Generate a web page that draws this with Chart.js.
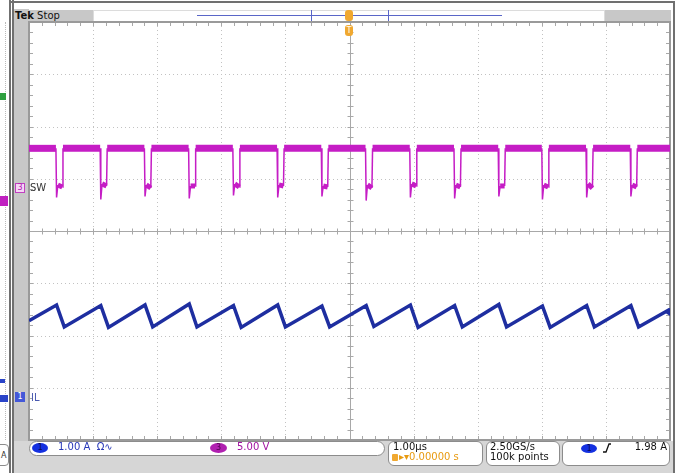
<!DOCTYPE html>
<html>
<head>
<meta charset="utf-8">
<script src="https://cdn.jsdelivr.net/npm/chart.js@4.4.0/dist/chart.umd.min.js"></script>
<style>
  body { margin: 0; background: #fff; }
  #scope { position: relative; width: 677px; height: 473px; overflow: hidden; background: #fff;
           font-family: "DejaVu Sans", sans-serif; }
  #scope div { position: absolute; box-sizing: border-box; }
  #scopeChart { position: absolute; left: 0; top: 0; }
  .txt { white-space: nowrap; font-size: 10px; line-height: 12px; }
  .box { background: #fff; border: 1px solid #8c8c8c; }
  .oval { border-radius: 50%; font-size: 8px; line-height: 10px; text-align: center; color: #0a0a40; }
  .tag { font-size: 8px; line-height: 9px; text-align: center; border-radius: 2px; }
</style>
</head>
<body>
<div id="scope">
  <!-- left neighbour panel -->
  <div style="left:5px;top:22px;width:1px;height:418px;border-left:1px dotted #bbb"></div>
  <div style="left:0;top:93px;width:6px;height:7px;background:#2fa040"></div>
  <div style="left:0;top:196px;width:8px;height:10px;background:#c020c0"></div>
  <div style="left:0;top:379px;width:5px;height:4px;background:#2a44c8"></div>
  <div style="left:0;top:395px;width:8px;height:7px;background:#2a44c8"></div>
  <div class="box" style="left:-4px;top:444px;width:13px;height:22px;border-radius:0 4px 4px 0"></div>
  <div class="txt" style="left:1px;top:450px;font-size:8px;color:#333">A</div>
  <div style="left:9px;top:0;width:2px;height:473px;background:#707070"></div>
  <div style="left:12px;top:0;width:2px;height:473px;background:#707070"></div>
  <!-- frame -->
  <div style="left:11px;top:1px;width:664px;height:2px;background:#707070"></div>
  <div style="left:673px;top:1px;width:2px;height:472px;background:#707070"></div>
  <div style="left:14px;top:9px;width:15px;height:464px;background:#c8c8c8"></div>
  <!-- top bar -->
  <div style="left:14px;top:10px;width:79px;height:12px;background:#c8c8c8"></div>
  <div class="txt" style="left:15px;top:10px;color:#111"><b>Tek</b> Stop</div>
  <div style="left:93px;top:10px;width:512px;height:12px;border:1px solid #dcdcdc;background:#fff"></div>
  <div style="left:197px;top:15px;width:305px;height:1px;background:#5a66c8"></div>
  <div style="left:311px;top:10px;width:1px;height:12px;background:#5a66c8"></div>
  <div style="left:388px;top:10px;width:1px;height:12px;background:#5a66c8"></div>
  <div style="left:345px;top:10px;width:8px;height:11px;background:#f0a830;border-radius:3px"></div>
  <div style="left:605px;top:10px;width:66px;height:12px;background:#c8c8c8"></div>
  <!-- status bar -->
  <div style="left:14px;top:441px;width:659px;height:32px;background:#d6d6d6"></div>
  <div class="box" style="left:29px;top:441px;width:356px;height:15px;border-radius:8px"></div>
  <div class="box" style="left:388px;top:441px;width:95px;height:25px;border-radius:6px"></div>
  <div class="box" style="left:486px;top:441px;width:74px;height:25px;border-radius:6px"></div>
  <div class="box" style="left:562px;top:441px;width:108px;height:25px;border-radius:6px"></div>
</div>
<canvas id="scopeChart" width="677" height="473"></canvas>
<div id="labels" style="position:absolute;left:0;top:0;width:677px;height:473px;pointer-events:none;font-family:'DejaVu Sans',sans-serif">
</div>
<script>
//setup block
// time axis in microseconds (1.00 us/div, 10 divisions)
const timeRangeUs = [-5, 5];
const gridDivsX = [-5, -4, -3, -2, -1, 0, 1, 2, 3, 4, 5];
const gridDivsY = [-4, -3, -2, -1, 0, 1, 2, 3, 4];

// channel 3, SW node, 5.00 V/div
const swTimeUs = [
  -5.00,
  -4.58, -4.57, -4.55, -4.48, -4.47,
  -3.89, -3.88, -3.86, -3.79, -3.78,
  -3.20, -3.19, -3.17, -3.10, -3.09,
  -2.51, -2.50, -2.48, -2.41, -2.40,
  -1.82, -1.81, -1.79, -1.72, -1.71,
  -1.13, -1.12, -1.10, -1.03, -1.02,
  -0.44, -0.43, -0.41, -0.34, -0.33,
   0.25,  0.26,  0.28,  0.35,  0.36,
   0.94,  0.95,  0.97,  1.04,  1.05,
   1.63,  1.64,  1.66,  1.73,  1.74,
   2.32,  2.33,  2.35,  2.42,  2.43,
   3.00,  3.01,  3.03,  3.10,  3.11,
   3.69,  3.70,  3.72,  3.79,  3.80,
   4.38,  4.39,  4.41,  4.48,  4.49,
   5.00
];
const swVolts = [
  3.8,
  3.8, -0.9, 0.3, 0.1, 3.8,
  3.8, -1.1, 0.4, 0.2, 3.8,
  3.8, -0.8, 0.3, 0.0, 3.8,
  3.8, -1.0, 0.2, 0.2, 3.8,
  3.8, -0.7, 0.4, 0.1, 3.8,
  3.8, -0.9, 0.3, 0.2, 3.8,
  3.8, -0.8, 0.2, 0.1, 3.8,
  3.8, -1.2, 0.3, 0.0, 3.8,
  3.8, -0.9, 0.4, 0.2, 3.8,
  3.8, -1.0, 0.3, 0.1, 3.8,
  3.8, -0.8, 0.2, 0.2, 3.8,
  3.8, -1.1, 0.3, 0.1, 3.8,
  3.8, -0.9, 0.4, 0.0, 3.8,
  3.8, -0.8, 0.3, 0.1, 3.8,
  3.8
];

// channel 1, inductor current, 1.00 A/div
const ilTimeUs = [
  -5.00,
  -4.57, -4.45, -3.88, -3.76, -3.19, -3.07, -2.50, -2.38, -1.81, -1.69,
  -1.12, -1.00, -0.43, -0.31,  0.26,  0.38,  0.95,  1.07,  1.64,  1.76,
   2.33,  2.45,  3.01,  3.13,  3.70,  3.82,  4.39,  4.51,
   5.00
];
const ilAmps = [
  1.48,
  1.78, 1.36, 1.77, 1.35, 1.78, 1.36, 1.80, 1.36, 1.77, 1.35,
  1.78, 1.36, 1.76, 1.36, 1.77, 1.37, 1.78, 1.35, 1.77, 1.36,
  1.79, 1.36, 1.76, 1.35, 1.77, 1.36, 1.77, 1.36,
  1.70
];

const scopeData = {
  datasets: [{
    label: 'SW',
    data: swTimeUs.map((t, i) => ({ x: t, y: swVolts[i] })),
    yAxisID: 'ySW',
    borderColor: '#c51dc5',
    borderWidth: 1.5,
    pointRadius: 0,
    segment: {
      // noisy flat parts look thicker than the edges
      borderWidth: ctx => {
        const a = ctx.p0.parsed.y, b = ctx.p1.parsed.y;
        if (a > 3 && b > 3) return 7;
        if (a < 1 && b < 1 && a > -0.5 && b > -0.5) return 5;
        return 1.5;
      }
    }
  }, {
    label: 'IL',
    data: ilTimeUs.map((t, i) => ({ x: t, y: ilAmps[i] })),
    yAxisID: 'yIL',
    borderColor: '#1e2ea0',
    borderWidth: 3.5,
    pointRadius: 0
  }]
};

//options
// graticule: dotted divisions, centre cross and frame with 0.2 div ticks
const scopeGrid = {
  id: 'scopeGrid',
  beforeDatasetsDraw(chart) {
    const { ctx, chartArea: a, scales } = chart;
    const x = scales.x, y = scales.yGrid;
    const line = (x1, y1, x2, y2) => { ctx.beginPath(); ctx.moveTo(x1, y1); ctx.lineTo(x2, y2); ctx.stroke(); };
    ctx.save();
    ctx.lineWidth = 1;
    ctx.strokeStyle = '#c2c2c2';
    ctx.setLineDash([1, 3]);
    gridDivsX.forEach(t => { const px = Math.round(x.getPixelForValue(t)) + 0.5; line(px, a.top, px, a.bottom); });
    gridDivsY.forEach(v => { const py = Math.round(y.getPixelForValue(v)) + 0.5; line(a.left, py, a.right, py); });
    ctx.setLineDash([]);
    const cx = Math.round(x.getPixelForValue(0)) + 0.5;
    const cy = Math.round(y.getPixelForValue(0)) + 0.5;
    ctx.strokeStyle = '#a8a8a8';
    line(cx, a.top, cx, a.bottom);
    line(a.left, cy, a.right, cy);
    for (let i = -25; i <= 25; i++) {
      const px = Math.round(x.getPixelForValue(i / 5)) + 0.5;
      line(px, cy - 3, px, cy + 3);
      line(px, a.top, px, a.top + 4);
      line(px, a.bottom - 4, px, a.bottom);
    }
    for (let i = -20; i <= 20; i++) {
      const py = Math.round(y.getPixelForValue(i / 5)) + 0.5;
      line(cx - 3, py, cx + 3, py);
      line(a.left, py, a.left + 4, py);
      line(a.right - 4, py, a.right, py);
    }
    ctx.strokeStyle = '#9a9a9a';
    ctx.lineWidth = 2;
    ctx.strokeRect(a.left, a.top, a.right - a.left, a.bottom - a.top);
    ctx.restore();
  }
};

const scopeOptions = {
  responsive: false,
  animation: false,
  devicePixelRatio: 1,
  layout: { padding: { left: 29, top: 22, right: 7, bottom: 33 } },
  plugins: { legend: { display: false }, tooltip: { enabled: false } },
  scales: {
    x: { type: 'linear', min: timeRangeUs[0], max: timeRangeUs[1], display: false },
    yGrid: { min: -4, max: 4, display: false },
    ySW: { min: -24.11, max: 15.89, display: false },
    yIL: { min: -0.804, max: 7.196, display: false }
  }
};

//config block
const scopeConfig = {
  type: 'line',
  data: scopeData,
  options: scopeOptions,
  plugins: [scopeGrid]
};

//render block
const scopeChart = new Chart(document.getElementById('scopeChart'), scopeConfig);

// readouts and markers on top of the graticule
document.getElementById('labels').innerHTML = `
  <div style="position:absolute;left:345px;top:25px;width:8px;height:11px;background:#f0a830;border-radius:3px;font-size:8px;line-height:11px;text-align:center;color:#fff">T</div>
  <div style="position:absolute;left:15px;top:183px;width:10px;height:10px;background:#f6d6f6;border:1px solid #c040c0;box-sizing:border-box;font-size:8px;line-height:8px;text-align:center;color:#b020b0">3</div>
  <div style="position:absolute;left:30px;top:182px;font-size:10px;line-height:12px;color:#333">SW</div>
  <div style="position:absolute;left:15px;top:392px;width:10px;height:10px;background:#4458d8;font-size:8px;line-height:10px;text-align:center;color:#fff">1</div>
  <div style="position:absolute;left:31px;top:392px;font-size:10px;line-height:12px;color:#4a5ab0">IL</div>
  <div style="position:absolute;left:664px;top:308px;width:0;height:0;border-top:4px solid transparent;border-bottom:4px solid transparent;border-right:6px solid #1e2ea0"></div>
  <div style="position:absolute;left:32px;top:443px;width:16px;height:10px;border-radius:50%;background:#1430e0;font-size:8px;line-height:10px;text-align:center;color:#0a0a50">1</div>
  <div style="position:absolute;left:58px;top:441px;font-size:10px;line-height:12px;color:#2838b8;white-space:nowrap">1.00 A&nbsp;&nbsp;Ω∿</div>
  <div style="position:absolute;left:210px;top:443px;width:17px;height:10px;border-radius:50%;background:#b020b0;font-size:8px;line-height:10px;text-align:center;color:#500050">3</div>
  <div style="position:absolute;left:237px;top:441px;font-size:10px;line-height:12px;color:#a010a0;white-space:nowrap">5.00 V</div>
  <div style="position:absolute;left:393px;top:441px;font-size:10px;line-height:12px;color:#111;white-space:nowrap">1.00µs</div>
  <div style="position:absolute;left:392px;top:454px;width:6px;height:7px;background:#f0a830;border-radius:1px"></div>
  <div style="position:absolute;left:399px;top:451px;font-size:10px;line-height:12px;color:#e89a10;white-space:nowrap">▸▾0.00000 s</div>
  <div style="position:absolute;left:490px;top:441px;font-size:10px;line-height:12px;color:#111;white-space:nowrap">2.50GS/s</div>
  <div style="position:absolute;left:490px;top:451px;font-size:10px;line-height:12px;color:#111;white-space:nowrap">100k points</div>
  <div style="position:absolute;left:581px;top:444px;width:16px;height:9px;border-radius:50%;background:#1430e0;font-size:8px;line-height:9px;text-align:center;color:#0a0a50">1</div>
  <svg style="position:absolute;left:602px;top:443px" width="10" height="10"><polyline points="1,9 4,9 7,1 9,1" fill="none" stroke="#111" stroke-width="1.3"/></svg>
  <div style="position:absolute;left:620px;top:441px;width:47px;text-align:right;font-size:10px;line-height:12px;color:#111;white-space:nowrap">1.98 A</div>
`;
</script>
</body>
</html>
